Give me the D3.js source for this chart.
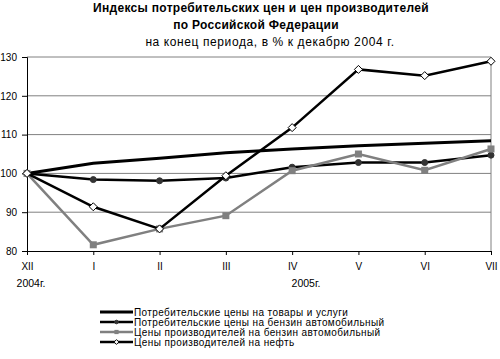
<!DOCTYPE html>
<html><head><meta charset="utf-8">
<script src="https://cdn.jsdelivr.net/npm/d3@7"></script>
<style>body{margin:0;background:#fff}svg{display:block}text{font-family:"Liberation Sans",Arial,sans-serif}</style>
</head><body><svg id="c" width="500" height="359"></svg>
<script>
const months = ["XII","I","II","III","IV","V","VI","VII"];
const yTicks = [80,90,100,110,120,130];
const cpiAll = [100,102.6,103.9,105.3,106.3,107.1,107.8,108.4];
const cpiGas = [100,98.4,98.1,98.8,101.6,102.8,102.8,104.7];
const prodGas = [100,81.6,85.7,89.1,100.7,105.0,100.8,106.3];
const prodOil = [100,91.4,85.7,99.4,111.8,126.8,125.2,128.9];
const seriesNames = ["Потребительские цены на товары и услуги","Потребительские цены на бензин автомобильный","Цены производителей на бензин автомобильный","Цены производителей на нефть"];

const svg = d3.select("#c");
const L=27,R=491,T=57,B=251;
const x = d3.scalePoint().domain(months).range([L,R]);
const y = d3.scaleLinear().domain([80,130]).range([B,T]);

// title
svg.append("text").attr("x",261).attr("y",12).attr("text-anchor","middle").attr("font-size",12).attr("font-weight","bold").attr("letter-spacing",0.3).text("Индексы потребительских цен  и цен производителей");
svg.append("text").attr("x",256).attr("y",29).attr("text-anchor","middle").attr("font-size",12).attr("font-weight","bold").attr("letter-spacing",0.3).text("по Российской Федерации");
svg.append("text").attr("x",270).attr("y",46).attr("text-anchor","middle").attr("font-size",12).attr("letter-spacing",0.6).text("на конец периода, в % к декабрю 2004 г.");

// grid
svg.append("g").selectAll("line").data(yTicks.filter(d=>d>80)).join("line")
 .attr("x1",L).attr("x2",R).attr("y1",d=>y(d)).attr("y2",d=>y(d)).attr("stroke","#808080").attr("stroke-width",1);
svg.append("line").attr("x1",R).attr("x2",R).attr("y1",T).attr("y2",B).attr("stroke","#808080");

// axes
const ya = svg.append("g").attr("transform",`translate(${L},0)`).call(d3.axisLeft(y).tickValues(yTicks).tickSize(5).tickPadding(5));
const xa = svg.append("g").attr("transform",`translate(0,${B})`).call(d3.axisBottom(x).tickSize(4).tickPadding(8));
[ya,xa].forEach(g=>{g.select(".domain").attr("stroke","#000");g.selectAll("line").attr("stroke","#000");g.selectAll("text").attr("font-size",10).attr("font-family","Liberation Sans, Arial, sans-serif").attr("fill","#000");});

svg.append("text").attr("x",31).attr("y",287).attr("text-anchor","middle").attr("font-size",10.5).text("2004г.");
svg.append("text").attr("x",306).attr("y",287).attr("text-anchor","middle").attr("font-size",10.5).text("2005г.");

const line = d3.line().x((d,i)=>x(months[i])).y(d=>y(d));
const styles = [
 {data:cpiAll,color:"#000",w:3,m:null},
 {data:cpiGas,color:"#000",w:2.5,m:"circle"},
 {data:prodGas,color:"#808080",w:2.5,m:"square"},
 {data:prodOil,color:"#000",w:2.5,m:"diamond"}
];
function marker(g,type,cx,cy,k){
 if(type==="circle") g.append("circle").attr("cx",cx).attr("cy",cy).attr("r",3*k).attr("fill","#333").attr("stroke","#333");
 else if(type==="square") g.append("rect").attr("x",cx-3.5*k).attr("y",cy-3.5*k).attr("width",7*k).attr("height",7*k).attr("fill","#808080");
 else if(type==="diamond") g.append("path").attr("d",`M${cx},${cy-4*k}L${cx+4*k},${cy}L${cx},${cy+4*k}L${cx-4*k},${cy}Z`).attr("fill","#fff").attr("stroke","#000").attr("stroke-width",1);
}
styles.forEach(s=>{
 const g=svg.append("g");
 g.append("path").attr("d",line(s.data)).attr("fill","none").attr("stroke",s.color).attr("stroke-width",s.w);
 if(s.m) s.data.forEach((v,i)=>marker(g,s.m,x(months[i]),y(v),1));
});

// legend
const lg = svg.append("g");
seriesNames.forEach((n,i)=>{
 const yy=312+i*10, s=styles[i];
 lg.append("line").attr("x1",100).attr("x2",133).attr("y1",yy).attr("y2",yy).attr("stroke",s.color).attr("stroke-width",s.w);
 if(s.m) marker(lg,s.m,116.5,yy,0.6);
 lg.append("text").attr("x",134).attr("y",yy+3.5).attr("font-size",10).attr("letter-spacing",0.4).text(n);
});
</script></body></html>
